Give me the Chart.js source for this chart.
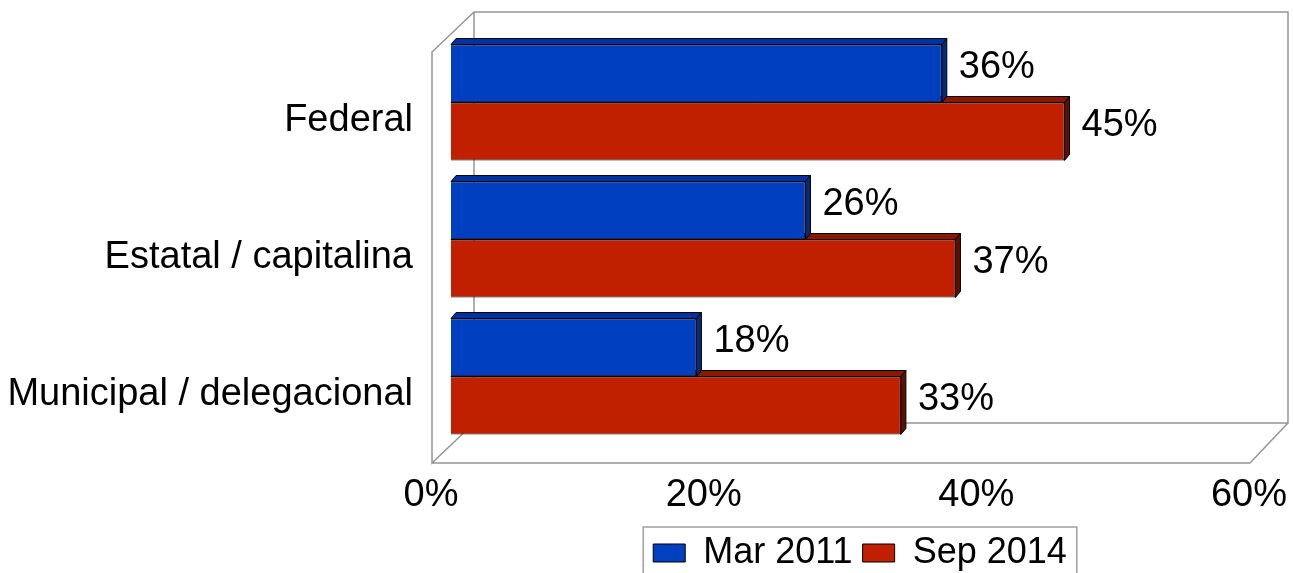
<!DOCTYPE html>
<html>
<head>
<meta charset="utf-8">
<script src="https://cdn.jsdelivr.net/npm/chart.js@4/dist/chart.umd.min.js"></script>
<style>
  html, body { margin: 0; padding: 0; background: #fff; }
  #wrap { width: 1293px; height: 573px; }
</style>
</head>
<body>
<div id="wrap"><canvas id="chart"></canvas></div>
<script>
// datos
const categories = ["Federal", "Estatal / capitalina", "Municipal / delegacional"];
const mar2011 = [36, 26, 18];
const sep2014 = [45, 37, 33];
const xTicks = [0, 20, 40, 60];

const FONT = "'Liberation Sans', Arial, sans-serif";
const FONT_SIZE = 38;
const DEPTH_X = 5;
const DEPTH_Y = 6;

Chart.defaults.color = "#000";
Chart.defaults.font.family = FONT;

// caja 3D de fondo (pared trasera y piso)
const boxPlugin = {
  id: "box3d",
  beforeDatasetsDraw(chart) {
    const { ctx, chartArea: a } = chart;
    const fl = a.left - 19, fr = a.right - 19, fb = a.bottom + 18; // plano frontal
    const bl = a.left + 23, br = a.right + 19, bt = a.top - 22, bb = a.bottom - 22; // plano trasero
    ctx.save();
    ctx.strokeStyle = "#959595";
    ctx.lineWidth = 1.5;
    ctx.beginPath();
    // pared trasera
    ctx.moveTo(bl, bb);
    ctx.lineTo(bl, bt);
    ctx.lineTo(br, bt);
    ctx.lineTo(br, bb);
    ctx.lineTo(bl, bb);
    // pared izquierda
    ctx.moveTo(bl, bt);
    ctx.lineTo(fl, bt + 40);
    ctx.lineTo(fl, fb);
    ctx.lineTo(bl, bb);
    // piso
    ctx.moveTo(fl, fb);
    ctx.lineTo(fr, fb);
    ctx.lineTo(br, bb);
    ctx.stroke();

    // caras superior y lateral de las barras
    const tops = ["#0033a0", "#8a1800"];
    const sides = ["#062a78", "#5e1000"];
    [1, 0].forEach((di) => {
      chart.getDatasetMeta(di).data.forEach((bar) => {
        const p = bar.getProps(["x", "y", "base", "height"], true);
        const top = p.y - p.height / 2, bottom = p.y + p.height / 2;
        ctx.fillStyle = tops[di];
        ctx.strokeStyle = "#000";
        ctx.lineWidth = 1;
        ctx.beginPath();
        ctx.moveTo(p.base, top);
        ctx.lineTo(p.base + DEPTH_X, top - DEPTH_Y);
        ctx.lineTo(p.x + DEPTH_X, top - DEPTH_Y);
        ctx.lineTo(p.x, top);
        ctx.closePath();
        ctx.fill();
        ctx.stroke();
        ctx.fillStyle = sides[di];
        ctx.beginPath();
        ctx.moveTo(p.x, top);
        ctx.lineTo(p.x + DEPTH_X, top - DEPTH_Y);
        ctx.lineTo(p.x + DEPTH_X, bottom - DEPTH_Y);
        ctx.lineTo(p.x, bottom);
        ctx.closePath();
        ctx.fill();
        ctx.stroke();
      });
    });
    ctx.restore();
  },
};

// etiquetas de valor y marco de la leyenda
const labelPlugin = {
  id: "valueLabels",
  afterDatasetsDraw(chart) {
    const { ctx } = chart;
    ctx.save();
    ctx.font = FONT_SIZE + "px " + FONT;
    ctx.fillStyle = "#000";
    ctx.textAlign = "left";
    ctx.textBaseline = "middle";
    chart.data.datasets.forEach((ds, di) => {
      chart.getDatasetMeta(di).data.forEach((bar, i) => {
        ctx.fillText(ds.data[i] + "%", bar.x + 17, bar.y - 6);
      });
    });
    ctx.restore();
  },
  afterDraw(chart) {
    const lg = chart.legend;
    if (!lg || !lg.legendHitBoxes.length) return;
    const hb = lg.legendHitBoxes;
    const left = hb[0].left - 10;
    const right = hb[hb.length - 1].left + hb[hb.length - 1].width + 10;
    const top = hb[0].top - 8;
    const { ctx } = chart;
    ctx.save();
    ctx.strokeStyle = "#a0a0a0";
    ctx.lineWidth = 1.5;
    ctx.beginPath();
    ctx.moveTo(left, chart.height + 5);
    ctx.lineTo(left, top);
    ctx.lineTo(right, top);
    ctx.lineTo(right, chart.height + 5);
    ctx.stroke();
    ctx.restore();
  },
};

new Chart(document.getElementById("chart"), {
  type: "bar",
  data: {
    labels: categories,
    datasets: [
      {
        label: "Mar 2011",
        data: mar2011,
        backgroundColor: "#0040c0",
        borderColor: "#000",
        borderWidth: 1,
        categoryPercentage: 0.846,
        barPercentage: 1,
      },
      {
        label: "Sep 2014",
        data: sep2014,
        backgroundColor: "#c02000",
        borderColor: "#000",
        borderWidth: 1,
        categoryPercentage: 0.846,
        barPercentage: 1,
      },
    ],
  },
  options: {
    indexAxis: "y",
    responsive: true,
    maintainAspectRatio: false,
    animation: false,
    layout: { padding: { top: 34, right: 24, left: 0, bottom: -8 } },
    scales: {
      x: {
        min: 0,
        max: 60,
        grid: { display: false, drawTicks: false },
        border: { display: false },
        afterBuildTicks: (s) => { s.ticks = xTicks.map((v) => ({ value: v })); },
        afterFit: (s) => { s.height = 80; s.paddingLeft = 0; s.paddingRight = 0; },
        ticks: {
          padding: 28,
          labelOffset: -20,
          maxRotation: 0,
          autoSkip: false,
          font: { size: FONT_SIZE },
          callback: (v) => v + "%",
        },
      },
      y: {
        grid: { display: false, drawTicks: false },
        border: { display: false },
        afterFit: (s) => { s.width = 451; s.paddingTop = 0; s.paddingBottom = 0; },
        ticks: {
          padding: 38,
          labelOffset: 18,
          font: { size: FONT_SIZE },
        },
      },
    },
    plugins: {
      legend: {
        position: "bottom",
        fullSize: false,
        labels: {
          boxWidth: 32,
          boxHeight: 18,
          padding: 10,
          font: { size: 36 },
        },
      },
      tooltip: { enabled: false },
    },
  },
  plugins: [boxPlugin, labelPlugin],
});
</script>
</body>
</html>
